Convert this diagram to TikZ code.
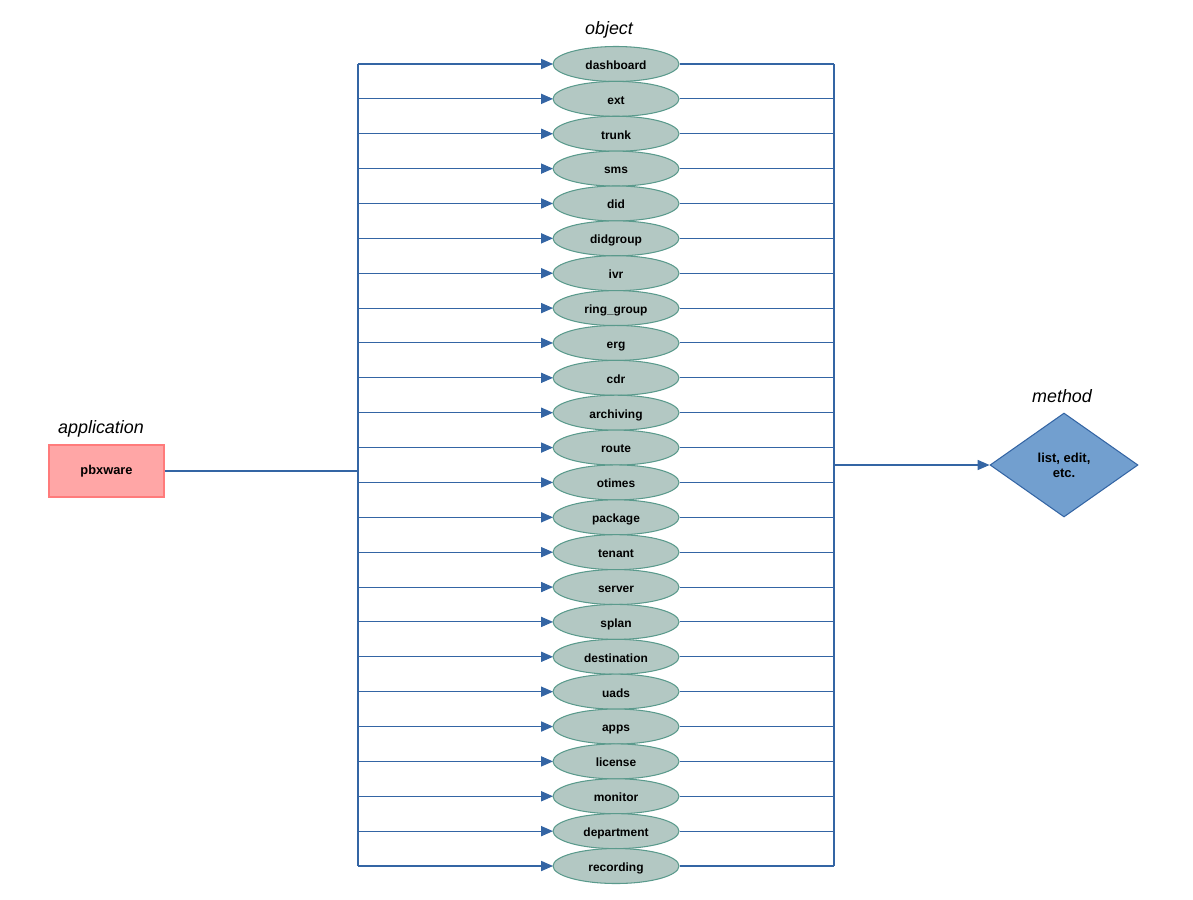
\documentclass[tikz,border=0pt]{standalone}
\usepackage{fontspec}
\setmainfont{Liberation Sans}
\usetikzlibrary{shapes.geometric,arrows.meta}
\definecolor{lineblue}{HTML}{3465A4}
\definecolor{objfill}{HTML}{B3C8C3}
\definecolor{objdraw}{HTML}{5A9A8C}
\definecolor{appfill}{HTML}{FFA6A6}
\definecolor{appdraw}{HTML}{FF7B7B}
\definecolor{methfill}{HTML}{729FCF}
\tikzset{
  objnode/.style={ellipse, draw=objdraw, fill=objfill, line width=0.6pt, minimum width=2.52cm, minimum height=0.7cm, inner sep=0pt, text height=1.6ex, text depth=0.45ex, font=\fontsize{6.8pt}{8pt}\selectfont\bfseries},
  appnode/.style={rectangle, draw=appdraw, fill=appfill, line width=0.6pt, minimum width=2.3cm, minimum height=1.04cm, inner sep=0pt, font=\fontsize{7.3pt}{8.5pt}\selectfont\bfseries},
  methnode/.style={diamond, draw=lineblue, fill=methfill, line width=0.6pt, minimum width=2.96cm, minimum height=2.08cm, inner sep=0pt, align=center, font=\fontsize{7.4pt}{8.6pt}\selectfont\bfseries},
  titlelbl/.style={font=\fontsize{10.2pt}{12pt}\selectfont\itshape, inner sep=0pt},
  conn/.style={draw=lineblue, line width=0.6pt},
  arr/.style={conn, -{Triangle[length=6.8pt,width=5.8pt]}},
}
\begin{document}
\begin{tikzpicture}[x=0.02cm,y=-0.02cm]
\useasboundingbox (0,0) rectangle (1193,899);
\node[titlelbl] (tobj) at (609,30) {object};
\node[titlelbl] (tapp) at (101,429) {application};
\node[titlelbl] (tmeth) at (1062,396) {method};
\node[appnode] (app) at (106.5,471) {pbxware};
\node[methnode] (meth) at (1064,465) {list, edit,\\etc.};
\foreach \name [count=\i] in {dashboard,ext,trunk,sms,did,didgroup,ivr,ring\_group,erg,cdr,archiving,route,otimes,package,tenant,server,splan,destination,uads,apps,license,monitor,department,recording} {
  \pgfmathsetmacro{\yy}{64+(\i-1)*34.87}
  \coordinate (L\i) at (358,\yy);
  \coordinate (R\i) at (834,\yy);
  \draw[arr] (L\i) -- (616-63,\yy);
  \node[objnode] (o\i) at (616,\yy) {\name};
  \draw[conn] (o\i.east) -- (R\i);
}
\draw[conn] (L1) -- (L24);
\draw[conn] (R1) -- (R24);
\coordinate (Lapp) at (358,471);
\draw[conn, line width=0.8pt] (app.east) -- (Lapp);
\coordinate (Rm) at (834,465);
\draw[arr] (Rm) -- (meth.west);
\end{tikzpicture}
\end{document}
